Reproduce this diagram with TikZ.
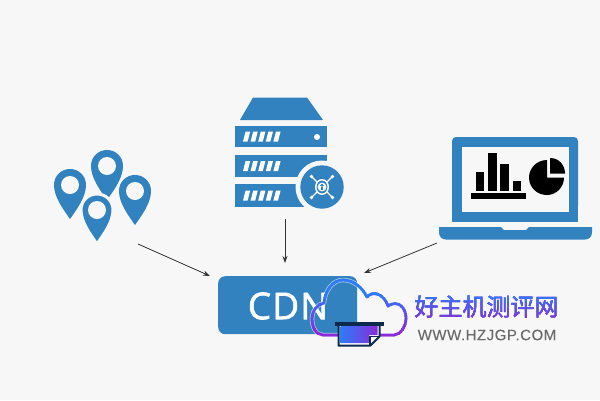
\documentclass[tikz,border=0pt]{standalone}
\usepackage{fontspec}
\setmainfont{Open Sans}
\newfontfamily\cjkfont[FakeBold=1.1]{Noto Sans CJK SC}
\newfontfamily\latinwide[LetterSpace=3.5,FakeBold=0.15]{Liberation Sans}
\newfontfamily\cdnfont[LetterSpace=3,FakeBold=1.6]{Open Sans}
\usetikzlibrary{arrows.meta,shadings}
\definecolor{pagebg}{HTML}{F7F7F7}
\definecolor{iconblue}{HTML}{3282BF}
\definecolor{navy}{HTML}{0C2A4C}
\definecolor{brandblue}{HTML}{2E7BFA}
\definecolor{brandviolet}{HTML}{8A2BD8}
\definecolor{arrowgrey}{HTML}{333333}
\definecolor{urlgrey}{HTML}{6A6A6A}
\tikzset{
  flow/.style={draw=arrowgrey,line width=.8pt,-{Stealth[length=7pt,width=5pt]}},
  iconfill/.style={fill=iconblue,draw=none},
  chart/.style={fill=black,draw=none},
  cloudline/.style={line width=2.8pt,line join=round},
  keyline/.style={draw=white,line width=1.2pt},
}
\newcommand{\pinshape}{(0,34) .. controls (-7,24) and (-16,12) .. (-16,0)
    .. controls (-16,-9) and (-9,-16) .. (0,-16)
    .. controls (9,-16) and (16,-9) .. (16,0)
    .. controls (16,12) and (7,24) .. (0,34) -- cycle}
% map pin: head radius 16, tip 34 below the head centre
\newcommand{\locpin}[2]{%
  \path[iconfill,shift={(#1,#2)}] \pinshape;
  \fill[pagebg] (#1,#2) circle (9);
}
% one slab of the server rack
\newcommand{\rackslab}[2]{%
  \fill[iconblue] (235,#1) rectangle (327,#2);
  \foreach \k in {0,...,4} {
    \pgfmathsetmacro{\xa}{243+7.6*\k}
    \pgfmathsetmacro{\ym}{(#1+#2)/2}
    \fill[white] (\xa,\ym+5) -- (\xa+4.6,\ym+5) -- (\xa+7.2,\ym-5) -- (\xa+2.6,\ym-5) -- cycle;
  }
}
\newcommand{\cloudshape}{(323,335) .. controls (316,335) and (312,327) .. (312,319)
  .. controls (312,311) and (317,304) .. (324,303)
  .. controls (325,290) and (333,280) .. (343,280)
  .. controls (353,280) and (362,287) .. (367,297)
  .. controls (373,290) and (384,294) .. (388,306)
  .. controls (398,299) and (406,308) .. (406,318)
  .. controls (406,327) and (400,335) .. (394,335) -- cycle}
\begin{document}
\begin{tikzpicture}[x=1pt,y=-1pt]
\useasboundingbox (0,0) rectangle (600,400);
\fill[pagebg] (0,0) rectangle (600,400);

% location pins
\locpin{70}{185}
\locpin{107}{166}
\locpin{135}{191}
\path[draw=pagebg,line width=3pt,fill=iconblue,shift={(97,210)}] \pinshape;
\fill[pagebg] (97,210) circle (9);
\coordinate (pins) at (138,244);

% server rack
\fill[iconblue] (253,97.5) -- (307,97.5) -- (323,120) -- (240,120) -- cycle;
\rackslab{126}{147}
\rackslab{155}{177}
\rackslab{184}{207}
\fill[white] (317,137) circle (3);
\fill[pagebg] (322,187) circle (26.5);
\fill[iconblue] (322,187) circle (21.7);
\foreach \sx/\sy in {-1/-1,1/-1,-1/1,1/1} {
  \draw[keyline] (322+5*\sx,187+5*\sy) -- (322+10.5*\sx,187+10.5*\sy);
  \fill[white] (322+10.5*\sx,187+10.5*\sy) circle (1.8);
}
\fill[white] (322,187) circle [x radius=7,y radius=8];
\fill[iconblue] (322,187) circle [x radius=5.4,y radius=6.4];
\fill[white] (322,187) circle (4.4);
\fill[iconblue] (322,185.5) circle (1.8) (321.2,186) rectangle (322.8,190);
\coordinate (rack) at (285,219);

% laptop with charts
\fill[iconblue,rounded corners=4pt] (452,210) -- (452,137) -- (578,137) -- (578,210) -- cycle;
\fill[iconblue] (452,205) rectangle (578,222);
\fill[pagebg] (462,147) rectangle (569,212);
\fill[iconblue] (439,227) -- (501,227) -- (504,230) -- (526,230) -- (529,227) -- (592,227) -- (592,232)
  .. controls (592,237) and (589,239.5) .. (585,239.5) -- (446,239.5)
  .. controls (442,239.5) and (439,237) .. (439,232) -- cycle;
\fill[chart] (476,172) rectangle (484,191);
\fill[chart] (488,153) rectangle (497,191);
\fill[chart] (500,164) rectangle (509,191);
\fill[chart] (513,181) rectangle (521,191);
\fill[chart] (471,193) rectangle (526,199);
\fill[chart] (547,160) .. controls (537,160) and (529,168) .. (529,177.5)
  .. controls (529,187.5) and (537,195) .. (547,195)
  .. controls (556,195) and (564,187.5) .. (564,177.5) -- (547,177.5) -- cycle;
\fill[chart] (550,158) .. controls (559,158) and (565,165) .. (565,173.5) -- (550,173.5) -- cycle;
\coordinate (laptop) at (437,243);

% CDN box
\node[iconfill,rounded corners=7pt,minimum width=139pt,minimum height=58pt,inner sep=0pt,anchor=north west] (cdn) at (218,276) {};
\node[text=white,font=\cdnfont\fontsize{37}{37}\selectfont,inner sep=0pt] (cdnlabel) at (288,306) {CDN};

% connectors
\coordinate (cdnleft) at (210,276);
\coordinate (cdntop) at (285,263);
\coordinate (cdnright) at (364,273);
\draw[flow] (pins) -- (cdnleft);
\draw[flow] (rack) -- (cdntop);
\draw[flow] (laptop) -- (cdnright);

% brand mark: cloud outline over the box, tinted band by band from top to bottom
\draw[white,opacity=.55,line width=4.5pt,line join=round] \cloudshape;
\foreach \b in {0,...,29} {
  \pgfmathsetmacro{\tint}{min(100,max(0,(\b-8)*100/18))}
  \begin{scope}
    \clip (305,276+2.1*\b) rectangle (412,276+2.1*\b+2.2);
    \draw[cloudline,draw=brandviolet!\tint!brandblue] \cloudshape;
  \end{scope}
}

% brand mark: page under its roller
\fill[white] (338,326) -- (380,326) -- (380,337) -- (371,346) -- (338,346) -- cycle;
\shade[left color=brandblue,right color=brandviolet] (340.5,326) -- (377.5,326) -- (377.5,335) -- (369,335) -- (369,343) -- (340.5,343) -- cycle;
\draw[navy,line width=2pt,line join=round] (338.5,326) -- (338.5,345.5) -- (370.5,345.5) -- (379.5,336.5) -- (379.5,326);
\draw[navy,line width=1.2pt,line join=round] (370,345) -- (370,336.5) -- (379,336.5);
\fill[navy] (335,322) rectangle (384,326);

% brand name: black glyphs take the gradient through a lighten blend
\node[text=black,font=\cjkfont\fontsize{24}{24}\selectfont,inner sep=0pt] (brand) at (486.5,306.5) {好主机测评网};
\begin{scope}[blend mode=lighten]
  \shade[top color=brandblue,bottom color=brandviolet,middle color=brandviolet!50!brandblue] (412,294) rectangle (562,320);
\end{scope}
\node[text=urlgrey,font=\latinwide\fontsize{15}{15}\selectfont,inner sep=0pt] (url) at (487,335) {WWW.HZJGP.COM};
\end{tikzpicture}
\end{document}
